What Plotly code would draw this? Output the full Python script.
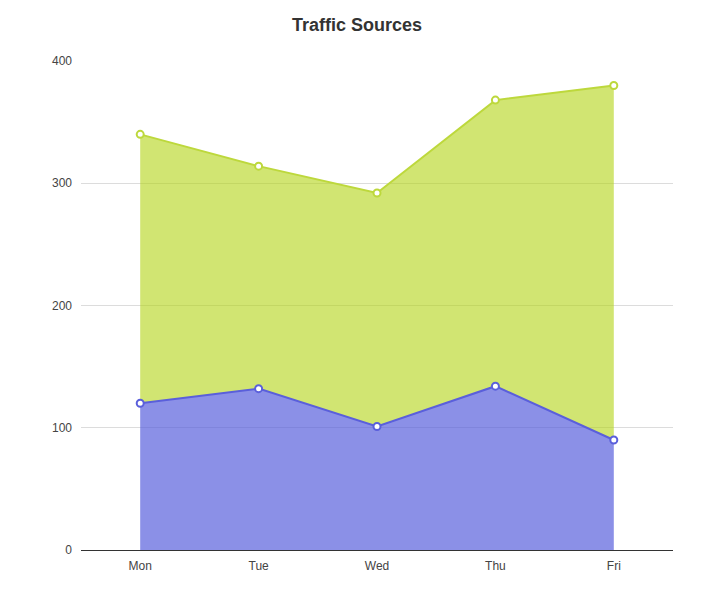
import plotly.graph_objects as go

days = ["Mon", "Tue", "Wed", "Thu", "Fri"]
email = [120, 132, 101, 134, 90]
union_ads = [220, 182, 191, 234, 290]
y_ticks = [0, 100, 200, 300, 400]

fig = go.Figure()
fig.add_trace(go.Scatter(
    x=days, y=email, name="Email", stackgroup="one",
    mode="lines+markers",
    line=dict(color="#5a5fdb", width=2),
    fillcolor="rgba(84,92,220,0.68)",
    marker=dict(size=7, color="white", line=dict(color="#5a5fdb", width=2)),
))
fig.add_trace(go.Scatter(
    x=days, y=union_ads, name="Union Ads", stackgroup="one",
    mode="lines+markers",
    line=dict(color="#bdd83c", width=2),
    fillcolor="rgba(178,212,20,0.6)",
    marker=dict(size=7, color="white", line=dict(color="#bdd83c", width=2)),
))

fig.update_layout(
    width=727, height=598,
    margin=dict(l=73, r=62, t=53, b=56),
    paper_bgcolor="white", plot_bgcolor="white",
    showlegend=False,
    font=dict(family="Liberation Sans, Arial, sans-serif", size=12, color="#444"),
    title=dict(text="<b>Traffic Sources</b>", x=349 / 727, xref="container", xanchor="center",
               yref="container", y=1 - 17 / 598, yanchor="middle",
               font=dict(size=18, color="#333")),
)
fig.update_xaxes(
    type="category", range=[-0.5, 4.5],
    showline=True, linecolor="#333", linewidth=1,
    showgrid=False, ticks="", ticklen=0, zeroline=False, ticklabelstandoff=5,
)
fig.update_yaxes(
    range=[0, 400], tickvals=y_ticks,
    showgrid=True, gridcolor="#dcdcdc", gridwidth=1,
    zeroline=False, showline=False, ticks="", ticklabelstandoff=8,
)

fig.write_html("out.html")
